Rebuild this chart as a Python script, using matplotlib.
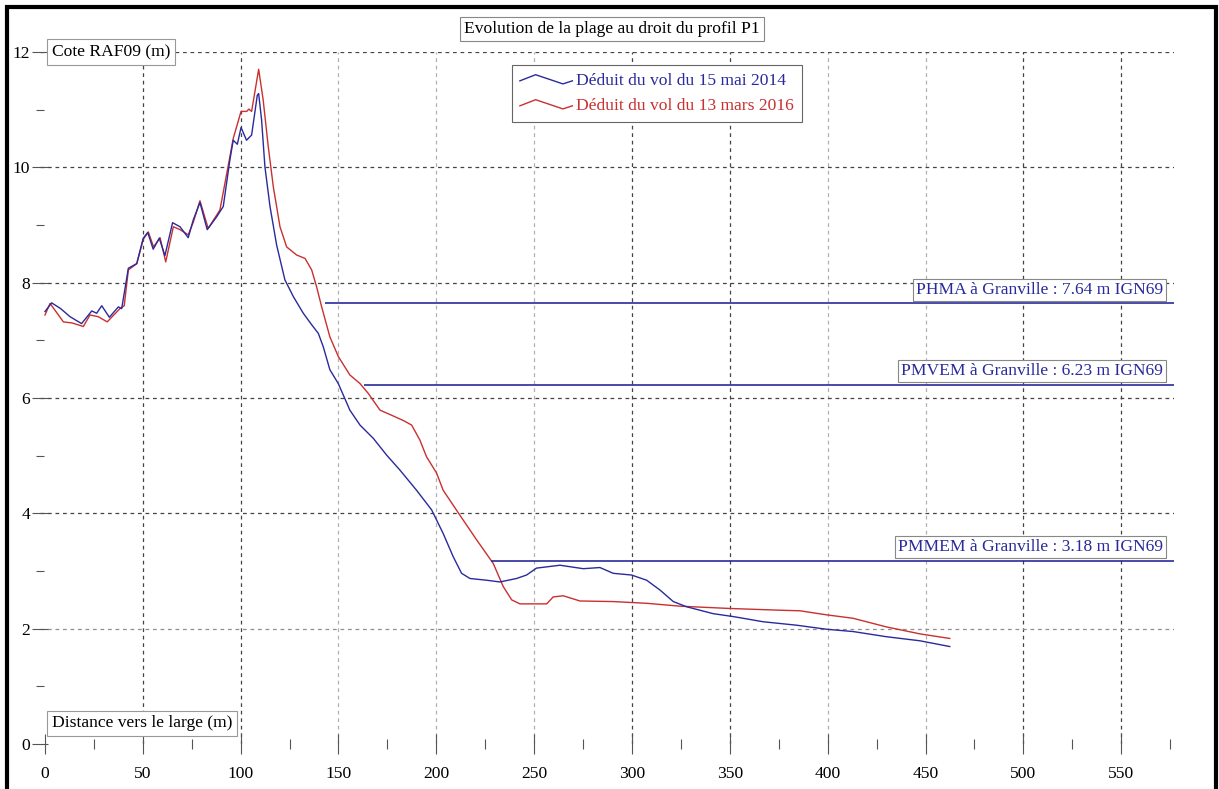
import matplotlib
matplotlib.use("Agg")
import matplotlib.pyplot as plt
from matplotlib.lines import Line2D
from matplotlib.legend_handler import HandlerBase
from matplotlib.patches import Rectangle

plt.rcParams['font.family'] = ['Liberation Serif', 'DejaVu Serif']

# ---------------- data ----------------
x_2014 = [0, 3.4, 8, 12.8, 18.7, 23.9, 26.4, 29, 32.9, 37.5, 39.2, 42.6, 46.9, 50.2, 52.5, 55.3,
          58.4, 61.3, 65.2, 69, 73.2, 75.8, 79.2, 82.9, 87.7, 91.1, 94.5, 96.2, 98.3, 100.2, 103,
          105.6, 108.5, 109.2, 110.7, 112.4, 115, 118.4, 122.6, 126.9, 132, 136.3, 139.7, 142.2,
          145.6, 149.9, 155.8, 161, 167.8, 174.6, 181.4, 189.9, 197.6, 203.5, 208.6, 212.9, 217.2,
          225.7, 232.5, 241, 246.1, 251.2, 263.2, 275.1, 283.6, 290.4, 299.8, 307.5, 314.3, 321.1,
          327.9, 341.5, 351.7, 367, 384.1, 399.4, 413, 430.1, 447.1, 462.4]
y_2014 = [7.50, 7.65, 7.55, 7.41, 7.29, 7.51, 7.47, 7.60, 7.40, 7.58, 7.55, 8.25, 8.33, 8.77, 8.87, 8.58,
          8.77, 8.47, 9.04, 8.97, 8.78, 9.09, 9.39, 8.92, 9.14, 9.32, 10.13, 10.47, 10.40, 10.69, 10.47,
          10.56, 11.25, 11.28, 10.82, 10.01, 9.32, 8.65, 8.05, 7.76, 7.47, 7.27, 7.12, 6.89,
          6.49, 6.25, 5.79, 5.53, 5.30, 5.01, 4.75, 4.40, 4.06, 3.65, 3.25, 2.96, 2.87,
          2.84, 2.81, 2.87, 2.93, 3.05, 3.10, 3.04, 3.06, 2.96, 2.93, 2.84, 2.67, 2.47,
          2.38, 2.26, 2.21, 2.12, 2.06, 1.99, 1.95, 1.86, 1.79, 1.69]

x_2016 = [0, 2.6, 9.4, 14, 19.6, 23, 27.2, 31.8, 38.3, 40.5, 42.6, 46.9, 50.2, 52.8, 55.5, 58.8,
          61.7, 65.6, 69, 73.2, 75.8, 79.2, 83.4, 89.4, 94.2, 96.2, 100.2, 103.1, 104.2, 105.6,
          109.2, 111.5, 114.1, 116.7, 120.1, 123.5, 128.6, 132.9, 136.3, 138.8, 141.4, 145.6,
          149.9, 155.8, 161, 165.2, 171.2, 177.2, 183.1, 187.4, 191.6, 195, 200.1, 203.5, 212,
          220.6, 229.1, 234.2, 238.5, 242.7, 256.4, 259.7, 264.9, 273.4, 290.4, 307.5, 324.5,
          350, 375.6, 385.8, 399.4, 413, 430.1, 447.1, 462.4]
y_2016 = [7.44, 7.64, 7.32, 7.30, 7.24, 7.44, 7.41, 7.32, 7.55, 7.60, 8.22, 8.33, 8.75, 8.88, 8.62, 8.78,
          8.36, 8.97, 8.92, 8.83, 9.05, 9.42, 8.94, 9.26, 10.13, 10.50, 10.97, 10.97, 11.01, 10.97,
          11.70, 11.17, 10.36, 9.66, 8.97, 8.62, 8.48, 8.42, 8.22, 7.93, 7.58, 7.06,
          6.72, 6.40, 6.25, 6.08, 5.79, 5.70, 5.61, 5.53, 5.27, 4.98, 4.70, 4.40, 3.97,
          3.54, 3.13, 2.73, 2.50, 2.43, 2.43, 2.55, 2.57, 2.48, 2.47, 2.44, 2.39,
          2.35, 2.32, 2.31, 2.24, 2.18, 2.03, 1.91, 1.83]

series_labels = ["Déduit du vol du 15 mai 2014", "Déduit du vol du 13 mars 2016"]

tide_names = ["PHMA à Granville : 7.64 m IGN69",
              "PMVEM à Granville : 6.23 m IGN69",
              "PMMEM à Granville : 3.18 m IGN69"]
tide_levels = [7.64, 6.23, 3.18]
tide_start = [143, 163, 228]

title = "Evolution de la plage au droit du profil P1"
ylabel = "Cote RAF09 (m)"
xlabel = "Distance vers le large (m)"

x_major = list(range(0, 551, 50))
x_minor = list(range(25, 576, 50))
y_major = list(range(0, 13, 2))
y_minor = list(range(1, 12, 2))

# ---------------- style ----------------
BLUE = '#2a2a9c'
RED = '#c9302f'
FS = 12.6

W, H = 1219, 789
fig = plt.figure(figsize=(W / 100, H / 100), dpi=100)
ax = fig.add_axes([40 / W, 45 / H, (1174 - 40) / W, (744 - 52) / H])
ax.set_xlim(-2.55, 577)
ax.set_ylim(0, 12)
for s in ax.spines.values():
    s.set_visible(False)

# grid
dark_x = {50, 100, 300, 350, 500, 550}
for xv in x_major[1:]:
    c = '#444444' if xv in dark_x else '#b0b0b0'
    ax.axvline(xv, color=c, lw=0.9, ls=(0, (3, 3)), zorder=1)
for yv in y_major[1:]:
    c = '#444444' if yv != 2 else '#909090'
    ax.axhline(yv, color=c, lw=0.9, ls=(0, (3, 3)), zorder=1)

# ticks
ax.set_xticks(x_major)
ax.set_xticks(x_minor, minor=True)
ax.set_yticks(y_major)
ax.set_yticks(y_minor, minor=True)
ax.tick_params(axis='x', which='major', direction='inout', length=14, width=0.8,
               color='#555555', labelsize=FS, pad=8.5)
ax.tick_params(axis='x', which='minor', direction='inout', length=7, width=0.8, color='#555555')
ax.tick_params(axis='y', which='major', direction='inout', length=11.5, width=0.8,
               color='#555555', labelsize=FS, pad=1.5)
ax.tick_params(axis='y', which='minor', direction='inout', length=5.5, width=0.8, color='#555555')

# curves
l1, = ax.plot(x_2014, y_2014, color=BLUE, lw=1.0, zorder=4)
l2, = ax.plot(x_2016, y_2016, color=RED, lw=1.0, zorder=3)

# tide levels
for name, lev, xs in zip(tide_names, tide_levels, tide_start):
    ax.hlines(lev, xs, 577, color=BLUE, lw=1.2, zorder=5)
    ax.annotate(name, xy=(575, lev), xytext=(-5, 4), textcoords='offset points',
                ha='right', va='bottom', fontsize=FS, color=BLUE, zorder=6,
                bbox=dict(boxstyle='square,pad=0.18', fc='white', ec='#888888', lw=0.8))

# axis labels as boxed texts
ax.text(3.5, 12, ylabel, ha='left', va='center', fontsize=FS, zorder=6,
        bbox=dict(boxstyle='square,pad=0.3', fc='white', ec='#999999', lw=0.8))
ax.text(3.5, 0.36, xlabel, ha='left', va='center', fontsize=FS, zorder=6,
        bbox=dict(boxstyle='square,pad=0.25', fc='white', ec='#999999', lw=0.8))

# title
fig.text(612 / W, 1 - 29 / H, title, ha='center', va='center', fontsize=FS,
         bbox=dict(boxstyle='square,pad=0.25', fc='white', ec='#888888', lw=0.8))


# legend with zigzag handles
class ZigZag(HandlerBase):
    def create_artists(self, legend, orig_handle, xdescent, ydescent, width, height, fontsize, trans):
        xs = [-xdescent + width * f for f in (0.0, 0.3, 0.82, 1.0)]
        ys = [-ydescent + height * f for f in (0.35, 0.85, 0.1, 0.35)]
        ln = Line2D(xs, ys, color=orig_handle.get_color(), lw=1.0, transform=trans)
        return [ln]


leg = ax.legend([l1, l2], series_labels, loc='upper left',
                bbox_to_anchor=((512 - 40) / (1174 - 40), 1 - (65 - 52) / (744 - 52)),
                borderaxespad=0.0,
                fontsize=FS, handler_map={Line2D: ZigZag()}, handlelength=3.0,
                handletextpad=0.2, borderpad=0.45, labelspacing=0.5, fancybox=False,
                framealpha=1, edgecolor='#666666')
leg.get_frame().set_linewidth(0.8)
for t, c in zip(leg.get_texts(), [BLUE, RED]):
    t.set_color(c)
leg.set_zorder(7)

# figure border
fig.patches.append(Rectangle((7 / W, -0.02), (1216 - 7) / W, (789 - 7) / H + 0.02,
                             transform=fig.transFigure, fill=False, ec='black', lw=3))

fig.savefig('out.png', dpi=100)
